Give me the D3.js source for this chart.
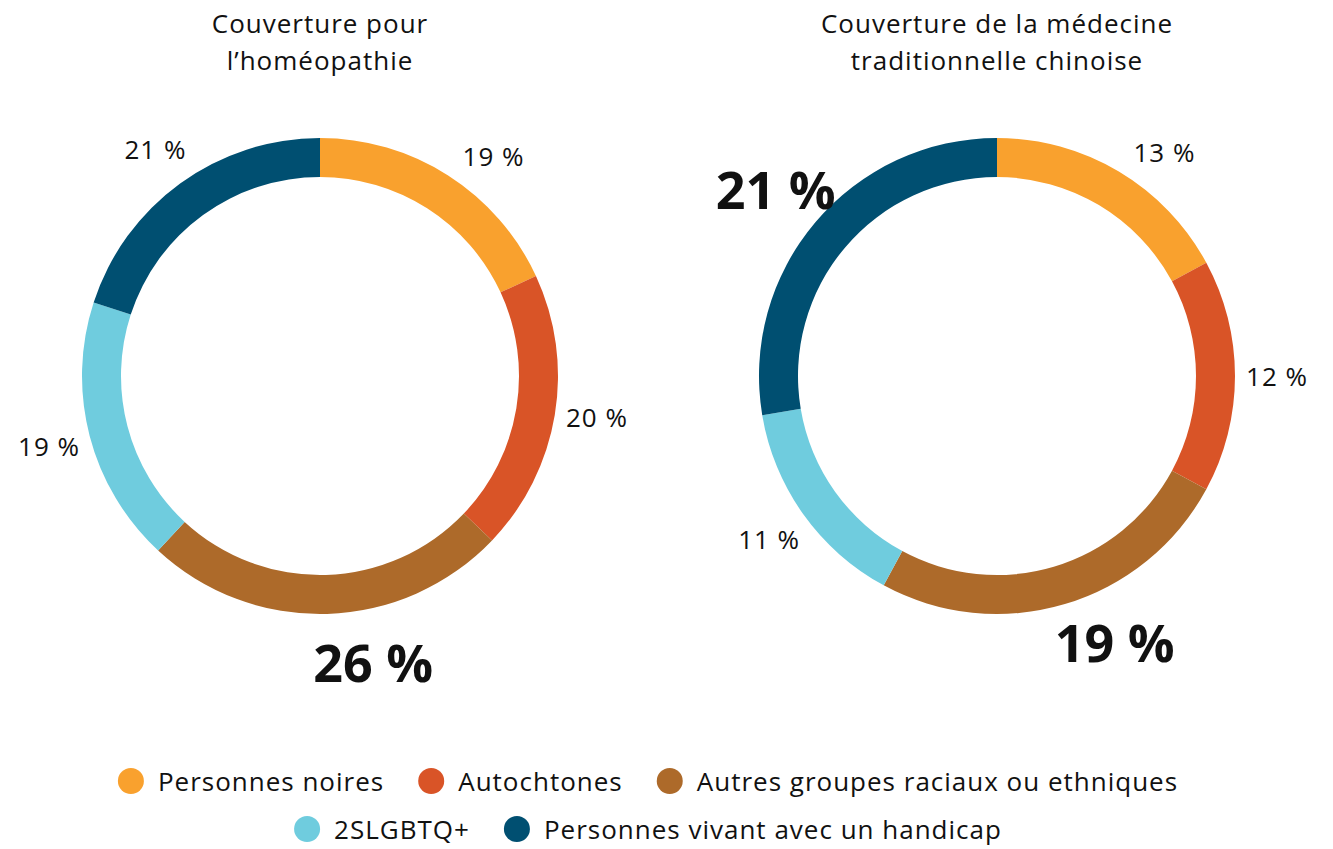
<!DOCTYPE html>
<html>
<head>
<meta charset="utf-8">
<script src="https://cdn.jsdelivr.net/npm/d3@7"></script>
<style>
  body { margin: 0; background: #fff; }
  svg { display: block; font-family: "Open Sans", Lato, sans-serif; }
</style>
</head>
<body>
<div id="chart"></div>
<script>
const categories = [
  "Personnes noires",
  "Autochtones",
  "Autres groupes raciaux ou ethniques",
  "2SLGBTQ+",
  "Personnes vivant avec un handicap",
];
const colors = ["#f9a12e", "#d95427", "#ad6a2a", "#6fccde", "#004f71"];

const homeopathie = [19, 20, 26, 19, 21];
const homeopathieBig = [false, false, true, false, false];
const medecineChinoise = [13, 12, 19, 11, 21];
const medecineChinoiseBig = [false, false, true, false, true];

const charts = [
  { title: ["Couverture pour", "l\u2019homéopathie"], values: homeopathie, big: homeopathieBig, cx: 320 },
  { title: ["Couverture de la médecine", "traditionnelle chinoise"], values: medecineChinoise, big: medecineChinoiseBig, cx: 997 },
];

const width = 1333;
const height = 849;
const cy = 376;
const outerR = 238;
const innerR = 199;

const svg = d3.select("#chart").append("svg")
  .attr("width", width)
  .attr("height", height);

const pie = d3.pie().sort(null).value((d) => d.value);
const arc = d3.arc().innerRadius(innerR).outerRadius(outerR);

charts.forEach((c) => {
  const g = svg.append("g").attr("transform", `translate(${c.cx},${cy})`);

  g.append("text")
    .attr("text-anchor", "middle")
    .attr("font-size", 26)
    .attr("letter-spacing", 1)
    .attr("fill", "#111")
    .selectAll("tspan")
    .data(c.title)
    .join("tspan")
    .attr("x", 0)
    .attr("y", (_, i) => -cy + 33 + i * 37)
    .text((d) => d);

  const arcs = pie(c.values.map((v, i) => ({ value: v, i, big: c.big[i] })));

  g.selectAll("path")
    .data(arcs)
    .join("path")
    .attr("d", arc)
    .attr("fill", (d) => colors[d.data.i]);

  g.selectAll(".lbl")
    .data(arcs)
    .join("text")
    .attr("class", "lbl")
    .attr("text-anchor", "middle")
    .attr("dominant-baseline", "central")
    .attr("font-size", (d) => (d.data.big ? 52 : 26))
    .attr("font-weight", (d) => (d.data.big ? 700 : 400))
    .attr("letter-spacing", (d) => (d.data.big ? 0 : 1))
    .attr("fill", "#111")
    .attr("transform", (d) => {
      let a = (d.startAngle + d.endAngle) / 2;
      // right-hand labels drift towards the horizontal
      if (a < Math.PI) a += 0.1 * (Math.PI / 2 - a);
      const r = d.data.big ? 290 : 280;
      return `translate(${r * Math.sin(a)},${-r * Math.cos(a)})`;
    })
    .text((d) => `${d.data.value}\u00a0%`);
});

// legend, two centred rows
const legendRows = [[0, 1, 2], [3, 4]];
const legendCx = 648;
const rowY = [781, 829];
const legend = svg.append("g")
  .attr("font-size", 26)
  .attr("letter-spacing", 1)
  .attr("fill", "#111");

legendRows.forEach((row, ri) => {
  const items = row.map((i) => {
    const it = legend.append("g");
    it.append("circle").attr("r", 13).attr("cx", 13).attr("fill", colors[i]);
    const t = it.append("text")
      .attr("x", 40)
      .attr("dominant-baseline", "central")
      .text(categories[i]);
    return { it, w: 40 + t.node().getComputedTextLength() };
  });
  const gap = 34;
  const total = d3.sum(items, (d) => d.w) + gap * (items.length - 1);
  let x = legendCx - total / 2;
  items.forEach((d) => {
    d.it.attr("transform", `translate(${x},${rowY[ri]})`);
    x += d.w + gap;
  });
});
</script>
</body>
</html>
